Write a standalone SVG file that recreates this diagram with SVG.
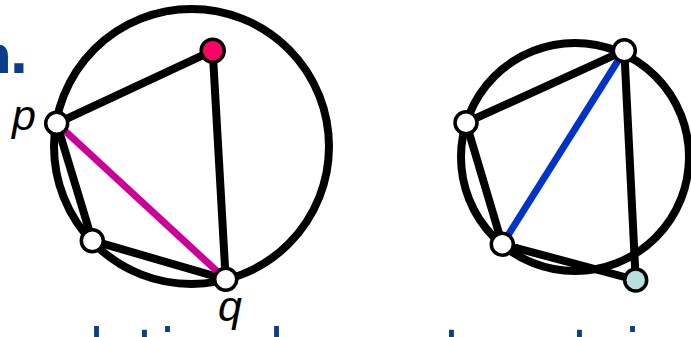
<svg xmlns="http://www.w3.org/2000/svg" width="691" height="337" viewBox="0 0 691 337">
<style>
.circ{fill:none;stroke:#000;stroke-width:8}
.edge{stroke:#000;stroke-width:8;stroke-linecap:round}
.hl1{stroke:#cc0099;stroke-width:7}
.hl2{stroke:#0033cc;stroke-width:7}
.node{fill:#fff;stroke:#000;stroke-width:3.5}
.lbl{font-family:"Liberation Sans",Arial,sans-serif;font-style:italic;font-size:43px;fill:#000}
.head{font-family:"DejaVu Sans",Verdana,sans-serif;fill:#0b3d8c}
</style>
<rect width="691" height="337" fill="#fff"/>
<text class="head" x="-25 9" y="73" font-size="52" font-weight="bold">n.</text>
<text class="head" x="89 137 160 269 444 572 625" y="367" font-size="54">ltiltti</text>
<circle class="circ" cx="191.5" cy="146.5" r="137.5"/>
<circle class="circ" cx="575" cy="157" r="114"/>
<g id="connectors">
<line class="edge" x1="56.7" y1="123.3" x2="212.7" y2="50.7"/>
<line class="edge" x1="212.7" y1="50.7" x2="225.7" y2="279.3"/>
<line class="edge" x1="56.7" y1="123.3" x2="92.3" y2="240.7"/>
<line class="edge" x1="92.3" y1="240.7" x2="225.7" y2="279.3"/>
<line class="hl1" x1="56.7" y1="123.3" x2="225.7" y2="279.3"/>
<line class="edge" x1="466" y1="122.7" x2="624.3" y2="50.7"/>
<line class="edge" x1="624.3" y1="50.7" x2="635.7" y2="280"/>
<line class="edge" x1="466" y1="122.7" x2="502.3" y2="244.3"/>
<line class="edge" x1="502.3" y1="244.3" x2="635.7" y2="280"/>
<line class="hl2" x1="502.3" y1="244.3" x2="624.3" y2="50.7"/>
</g>
<g id="n-red"><circle class="node" cx="212.7" cy="50.7" r="11.5" fill="#ff0066" style="fill:#ff0066"/></g>
<g id="n-p"><circle class="node" cx="56.7" cy="123.3" r="11"/><text class="lbl" x="12" y="130">p</text></g>
<g id="n-bl"><circle class="node" cx="92.3" cy="240.7" r="11"/></g>
<g id="n-q"><circle class="node" cx="225.7" cy="279.3" r="11"/><text class="lbl" x="218" y="321">q</text></g>
<g id="r-top"><circle class="node" cx="624.3" cy="50.7" r="11"/></g>
<g id="r-left"><circle class="node" cx="466" cy="122.7" r="11"/></g>
<g id="r-bl"><circle class="node" cx="502.3" cy="244.3" r="11"/></g>
<g id="r-cyan"><circle class="node" cx="635.7" cy="280" r="11" style="fill:#b9e0e0"/></g>
</svg>
